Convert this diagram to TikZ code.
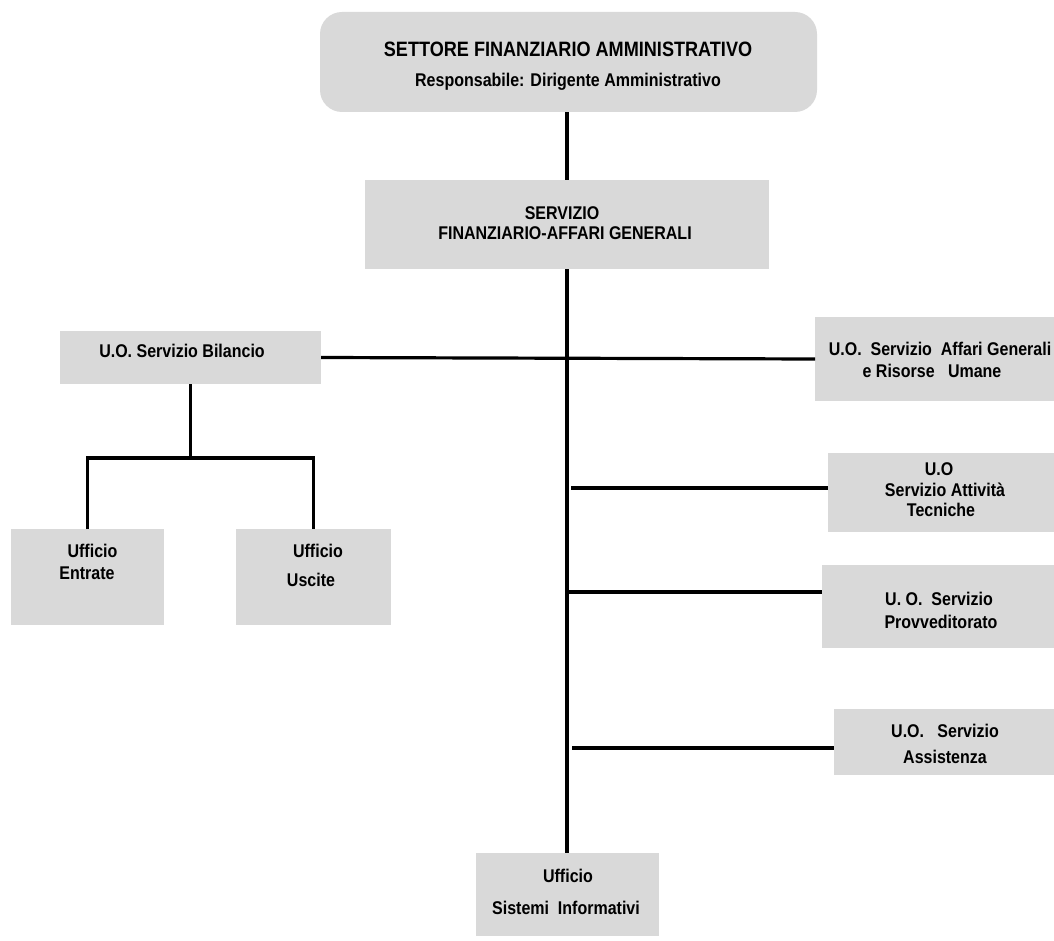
\documentclass[tikz,border=0pt]{standalone}
\usepackage{fontspec}
\setmainfont{Liberation Sans}[FakeStretch=0.87]
\definecolor{boxgray}{HTML}{D9D9D9}
\begin{document}
\begin{tikzpicture}[x=1pt,y=-1pt,
  box/.style={fill=boxgray,draw=none,inner sep=0pt,outer sep=0pt},
  lbl/.style={anchor=base,inner sep=0pt,font=\fontsize{18.4}{22}\selectfont\bfseries},
  ttl/.style={anchor=base,inner sep=0pt,font=\fontsize{20.8}{24}\selectfont\bfseries},
  conn/.style={line width=3.2pt,black}]
\useasboundingbox (0,0) rectangle (1054,941);
% boxes
\node[box,rounded corners=22pt,minimum width=497pt,minimum height=100pt] (top) at (568.5,62) {};
\node[box,minimum width=404pt,minimum height=89pt] (serv) at (567,224.5) {};
\node[box,minimum width=261pt,minimum height=53pt] (bil) at (190.5,357.5) {};
\node[box,minimum width=153pt,minimum height=96pt] (entr) at (87.5,577) {};
\node[box,minimum width=155pt,minimum height=96pt] (usc) at (313.5,577) {};
\node[box,minimum width=239pt,minimum height=84pt] (aff) at (934.5,359) {};
\node[box,minimum width=226pt,minimum height=79pt] (att) at (941,492.5) {};
\node[box,minimum width=232pt,minimum height=83pt] (prov) at (938,606.5) {};
\node[box,minimum width=220pt,minimum height=66pt] (ass) at (944,742) {};
\node[box,minimum width=183pt,minimum height=83pt] (sis) at (567,894.5) {};
% texts
\node[ttl] (t1) at (568,57) {SETTORE FINANZIARIO AMMINISTRATIVO};
\node[lbl] (t2) at (568,87) {Responsabile: Dirigente Amministrativo};
\node[lbl] (s1) at (562,220) {SERVIZIO};
\node[lbl] (s2) at (565,240) {FINANZIARIO-AFFARI GENERALI};
\node[lbl] (b1) at (182,357.5) {U.O. Servizio Bilancio};
\node[lbl] (e1) at (92.5,557) {Ufficio};
\node[lbl] (e2) at (87,579) {Entrate};
\node[lbl] (u1) at (318,557) {Ufficio};
\node[lbl] (u2) at (311,586) {Uscite};
\node[lbl] (a1) at (940,355) {U.O.\ \ Servizio\ \ Affari Generali};
\node[lbl] (a2) at (932,377) {e Risorse\ \ \ Umane};
\node[lbl] (at1) at (939,475) {U.O};
\node[lbl] (at2) at (945,496) {Servizio Attività};
\node[lbl] (at3) at (941,516) {Tecniche};
\node[lbl] (p1) at (939,605) {U. O.\ \ Servizio};
\node[lbl] (p2) at (941,628) {Provveditorato};
\node[lbl] (as1) at (945,737) {U.O.\ \ \ Servizio};
\node[lbl] (as2) at (945,763) {Assistenza};
\node[lbl] (si1) at (568,882) {Ufficio};
\node[lbl] (si2) at (566,914) {Sistemi\ \ Informativi};
% connector junctions
\coordinate (ja) at (571,488);
\coordinate (jp) at (567,592);
\coordinate (js) at (572,748);
\coordinate (bj) at (189,458);
% connectors
\draw[conn] (serv.north) -- (serv.north |- top.south);
\draw[conn] (serv.south) -- (sis.north);
\draw[conn] (bil.east) -- (aff.west);
\draw[conn] (ja) -- (ja -| att.west);
\draw[conn] (jp) -- (jp -| prov.west);
\draw[conn] (js) -- (js -| ass.west);
\draw[conn] (bil.south) -- (bil.south |- bj);
\draw[conn] (entr.north) |- (bj) -| (usc.north);
\end{tikzpicture}
\end{document}
